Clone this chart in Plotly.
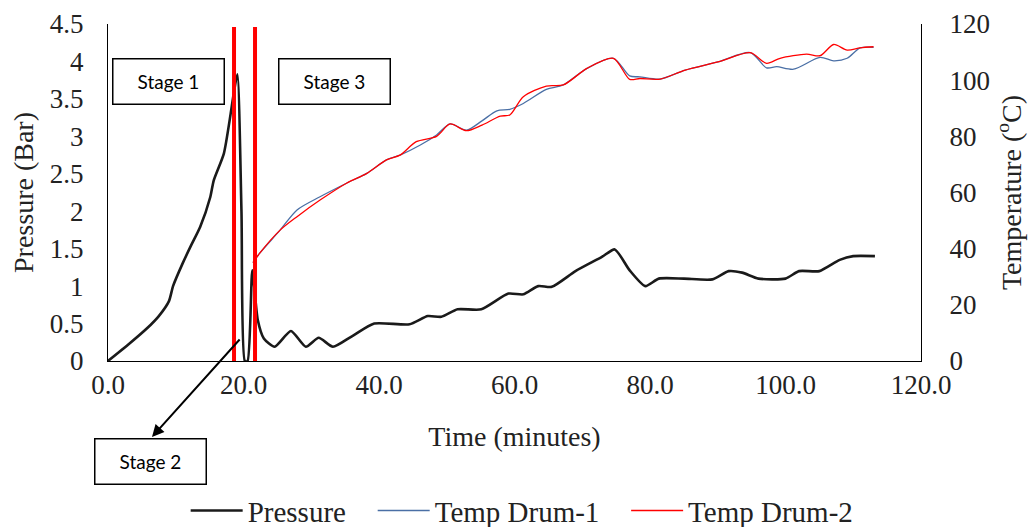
import plotly.graph_objects as go

# ---- data ----
p_time = [0, 3, 5.8, 7.5, 9.0, 9.6, 11, 12.3, 13.6, 15.1, 15.6, 17.1, 18.1, 18.6, 19.1, 19.7,
          20.2, 20.6, 21.3, 22.1, 23, 24.6, 27, 29.2, 31.1, 33.2, 36, 39.3, 44.5, 47.2, 49.2,
          51.6, 55.1, 59.1, 61.3, 63.5, 65.5, 69, 72.9, 74.8, 77, 79.3, 81.3, 85, 89.2, 91.6,
          93.6, 96, 100, 102, 105, 108, 110, 113.2]
pressure = [0, 0.22, 0.44, 0.6, 0.8, 1.0, 1.3, 1.55, 1.79, 2.19, 2.41, 2.77, 3.3, 3.6, 3.83, 2.0,
            0.0, 0.0, 1.21, 0.55, 0.3, 0.19, 0.40, 0.19, 0.31, 0.19, 0.33, 0.50, 0.49, 0.6, 0.59,
            0.69, 0.69, 0.9, 0.89, 1.0, 0.99, 1.2, 1.39, 1.49, 1.21, 1.0, 1.1, 1.1, 1.09, 1.2,
            1.18, 1.1, 1.1, 1.2, 1.2, 1.35, 1.4, 1.4]

t1_time = [21.4, 22.4, 25.4, 27.9, 31.3, 35.2, 38.2, 41.1, 43.1, 46.1, 48.5, 50.5, 52.9, 55.2,
           57.4, 59.3, 61.3, 64.7, 67.2, 70.7, 74.6, 77.0, 78.5, 81.5, 85.2, 90.2, 94.8, 97.2,
           98.7, 101.2, 105.1, 107.1, 109.1, 111.0, 113.0]
temp_drum1 = [35.0, 38.4, 46.6, 53.8, 58.5, 63.3, 66.8, 71.6, 73.3, 76.9, 80.5, 84.4, 82.2, 85.5,
              89.1, 89.6, 91.7, 96.7, 98.3, 104.2, 107.8, 101.5, 101.2, 100.4, 103.6, 106.6, 109.8,
              104.4, 104.8, 103.9, 108.1, 106.9, 107.8, 111.5, 111.7]

t2_time = [21.4, 22.4, 25.4, 27.9, 31.3, 35.2, 38.2, 41.1, 43.1, 45.5, 48.5, 50.5, 52.9, 55.2,
           57.9, 59.3, 61.3, 64.7, 67.2, 70.7, 74.6, 77.0, 78.5, 81.5, 85.2, 90.2, 94.8, 97.2,
           99.2, 103.1, 105.1, 107.1, 109.1, 111.0, 113.0]
temp_drum2 = [35.0, 38.4, 46.6, 51.4, 57.3, 63.3, 66.8, 71.6, 73.3, 78.1, 80.0, 84.4, 82.0, 84.0,
              87.2, 87.6, 94.1, 97.9, 98.3, 104.2, 107.8, 100.3, 100.6, 100.4, 103.6, 106.6, 109.8,
              106.0, 107.8, 109.3, 108.7, 112.7, 110.7, 111.5, 111.9]

stage_lines = [18.6, 21.7]
stage_labels = ["Stage 1", "Stage 2", "Stage 3"]
series_names = ["Pressure", "Temp Drum-1", "Temp Drum-2"]

SERIF = "Liberation Serif"
PAD = "\u00a0" * 3  # spacing between legend entries

fig = go.Figure()
fig.add_trace(go.Scatter(x=p_time, y=pressure, name=series_names[0] + PAD, mode="lines",
                         line=dict(color="#1a1a1a", width=2.6, shape="spline", smoothing=0.6)))
fig.add_trace(go.Scatter(x=t1_time, y=temp_drum1, name=series_names[1] + PAD, mode="lines",
                         yaxis="y2",
                         line=dict(color="#4A6FA5", width=1.3, shape="spline", smoothing=0.8)))
fig.add_trace(go.Scatter(x=t2_time, y=temp_drum2, name=series_names[2], mode="lines", yaxis="y2",
                         line=dict(color="#FF0000", width=1.3, shape="spline", smoothing=0.8)))

for xv in stage_lines:
    fig.add_shape(type="line", xref="x", yref="paper", x0=xv, x1=xv, y0=0, y1=0.991,
                  line=dict(color="#FF0000", width=4))

box = dict(bordercolor="black", borderwidth=1.5, borderpad=0, width=110, height=44,
           bgcolor="white", font=dict(family="Lato", size=19, color="black"), showarrow=False,
           xref="paper", yref="paper", xanchor="center", yanchor="middle")
fig.add_annotation(text=stage_labels[0], x=0.0745, y=0.829, **box)
fig.add_annotation(text=stage_labels[2], x=0.2785, y=0.829, **box)
fig.add_annotation(text=stage_labels[1], x=0.0517, y=-0.298, **box)
fig.add_annotation(text="", x=0.0541, y=-0.2255, xref="paper", yref="paper",
                   showarrow=True, ax=89, ay=-99, arrowhead=2, arrowsize=1.2,
                   arrowwidth=2, arrowcolor="black")

fig.update_layout(
    width=1034, height=527,
    margin=dict(l=108, r=113, t=24, b=166, autoexpand=False),
    plot_bgcolor="white", paper_bgcolor="white",
    font=dict(family=SERIF, size=27, color="#222"),
    showlegend=True,
    legend=dict(orientation="h", xref="container", yref="container", x=0.505, xanchor="center",
                y=0.031, yanchor="middle", itemwidth=52,
                font=dict(family=SERIF, size=29, color="#222")),
    xaxis=dict(range=[0, 120], dtick=20, tickformat=".1f", showgrid=False, zeroline=False,
               showline=True, linecolor="black", linewidth=1, ticks="", automargin=False,
               title=dict(text="Time (minutes)", font=dict(size=28), standoff=26)),
    yaxis=dict(range=[0, 4.5], dtick=0.5, showgrid=False, zeroline=False, automargin=False,
               showline=True, linecolor="black", linewidth=1, ticks="outside", ticklen=18,
               tickcolor="rgba(0,0,0,0)",
               title=dict(text="Pressure (Bar)", font=dict(size=28), standoff=8)),
    yaxis2=dict(range=[0, 120], dtick=20, overlaying="y", side="right", showgrid=False,
                zeroline=False, showline=True, linecolor="black", linewidth=1, automargin=False,
                ticks="outside", ticklen=22, tickcolor="rgba(0,0,0,0)",
                title=dict(text="Temperature (<sup>o</sup>C)", font=dict(size=28), standoff=12)),
)

fig.write_html("out.html", config={"displayModeBar": False},
               post_script="document.body.style.margin='0px';")
